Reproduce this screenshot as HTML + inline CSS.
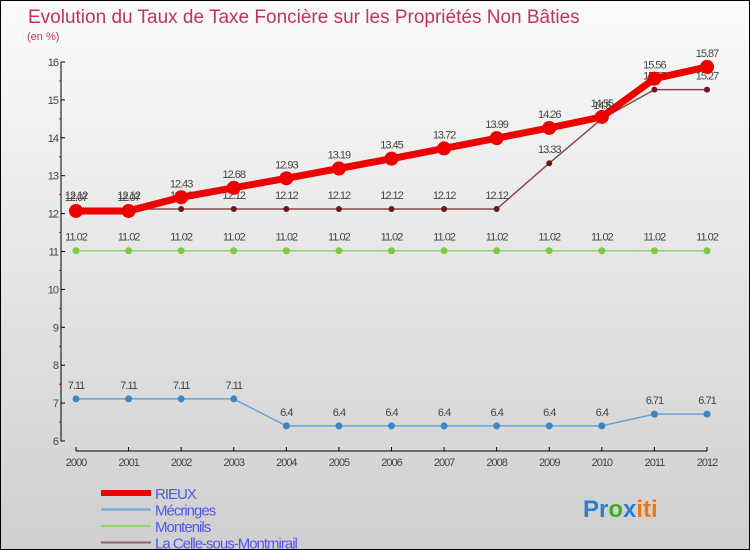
<!DOCTYPE html>
<html><head><meta charset="utf-8"><style>
body{margin:0}
#c{width:750px;height:550px;position:relative;overflow:hidden;box-sizing:border-box;border:1px solid #000;background:linear-gradient(#fbfbfb,#cfcfcf);font-family:"Liberation Sans",sans-serif}
svg{position:absolute;left:0;top:0}
</style></head><body>
<div id="c">
<svg id="s" width="750" height="550">
<text x="27" y="22" font-size="19" fill="#c0335f">Evolution du Taux de Taxe Foncière sur les Propriétés Non Bâties</text>
<text x="26" y="39" font-size="11" fill="#c0335f">(en %)</text>
<text x="582" y="516" font-size="24" font-family="Liberation Sans" font-weight="bold"><tspan fill="#2a7fd0">Pr</tspan><tspan fill="#44aa22">o</tspan><tspan fill="#2a7fd0">x</tspan><tspan fill="#ee7711">iti</tspan></text>
</svg>
</div>
<script>
const years=[2000,2001,2002,2003,2004,2005,2006,2007,2008,2009,2010,2011,2012];
const rieux=[12.07,12.07,12.43,12.68,12.93,13.19,13.45,13.72,13.99,14.26,14.55,15.56,15.87];
const mecringes=[7.11,7.11,7.11,7.11,6.4,6.4,6.4,6.4,6.4,6.4,6.4,6.71,6.71];
const montenils=[11.02,11.02,11.02,11.02,11.02,11.02,11.02,11.02,11.02,11.02,11.02,11.02,11.02];
const celle=[12.12,12.12,12.12,12.12,12.12,12.12,12.12,12.12,12.12,13.33,14.5,15.27,15.27];
const yTicks=[6,7,8,9,10,11,12,13,14,15,16];
const svg=document.getElementById('s');const NS='http://www.w3.org/2000/svg';
const X=i=>75+i*(706-75)/12;const Y=v=>440-(v-6)*37.9;
function mk(t,a,p){const e=document.createElementNS(NS,t);for(const k in a)e.setAttribute(k,a[k]);(p||svg).appendChild(e);return e;}
let ax=mk('g',{});


mk('line',{x1:60,y1:61,x2:60,y2:440,stroke:'#000'},ax);
yTicks.forEach(v=>{mk('line',{x1:60,y1:Y(v),x2:64,y2:Y(v),stroke:'#000'},ax);
 if(v<16)mk('line',{x1:58,y1:Y(v+0.5),x2:60,y2:Y(v+0.5),stroke:'#d00'},ax);
 const t=mk('text',{x:57,y:Y(v)+4,'font-size':11,fill:'#444','text-anchor':'end','letter-spacing':'-1'},ax);t.textContent=v;});
let xa=mk('g',{});


mk('line',{x1:75,y1:450,x2:706,y2:450,stroke:'#000'},xa);
years.forEach((y,i)=>{mk('line',{x1:X(i),y1:446,x2:X(i),y2:450,stroke:'#000'},xa);
 const t=mk('text',{x:X(i),y:465,'font-size':11,fill:'#444','text-anchor':'middle','letter-spacing':'-1'},xa);t.textContent=y;});
function series(d,name,col,w,r,dot,lc){
 const g=mk('g',{});
 
 
 mk('polyline',{points:d.map((v,i)=>X(i)+','+Y(v)).join(' '),fill:'none',stroke:col,'stroke-width':w,'stroke-linejoin':'round'},g);
 d.forEach((v,i)=>{const c=mk('circle',{cx:X(i),cy:Y(v),r:r,fill:dot},g);
  
  
  const t=mk('text',{x:X(i),y:Y(v)-10,'font-size':11,fill:lc,'text-anchor':'middle','letter-spacing':'-1'},g);
  t.textContent=(''+v);});
}
series(mecringes,'mecringes-series','#6aa4d6',1.5,3.5,'#3a86c6','#444');
series(montenils,'montenils-series','#8fd46a',1.5,3.5,'#77cc44','#444');
series(celle,'la-celle-series','#8a4a4a',1.5,3,'#6a1a1a','#444');
series(rieux,'rieux-series','#ee0000',7,7,'#ee0000','#444');
const leg=[['RIEUX','#ee0000',6],['Mécringes','#6aa4d6',2],['Montenils','#8fd46a',2],['La Celle-sous-Montmirail','#9a6060',2]];
leg.forEach((l,i)=>{const g=mk('g',{});
 
 
 const y=492+i*16.5;mk('line',{x1:100,y1:y,x2:150,y2:y,stroke:l[1],'stroke-width':l[2]},g);
 const t=mk('text',{x:154,y:y+6,'font-size':15,fill:'#5555ee','letter-spacing':'-1'},g);t.textContent=l[0];});
</script>
</body></html>
